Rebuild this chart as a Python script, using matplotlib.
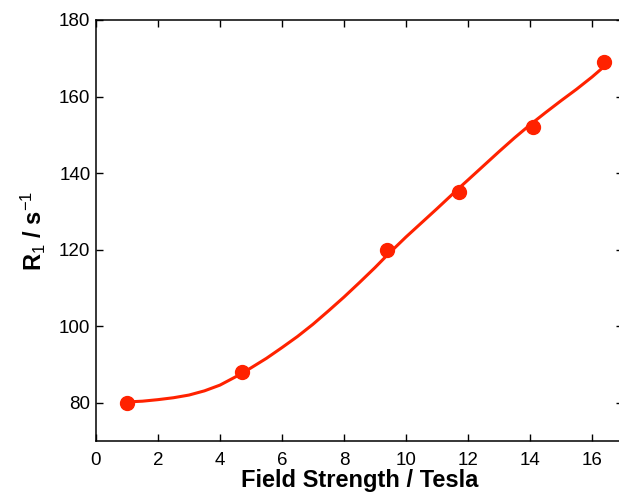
import matplotlib
matplotlib.use('Agg')
import matplotlib.pyplot as plt

# measured R1 values
field = [1.0, 4.7, 9.4, 11.7, 14.1, 16.4]
r1 = [80, 88, 120, 135, 152, 169]

# fitted curve
fit_x = [1.0, 1.5, 2.0, 2.5, 3.0, 3.5, 4.0, 4.7, 5.5, 6.0, 6.5, 7.0, 7.5, 8.0, 8.5, 9.0, 9.4,
         10.0, 10.5, 11.0, 11.7, 12.0, 12.5, 13.0, 13.5, 14.0, 14.5, 15.0, 15.5, 16.0, 16.4]
fit_y = [80.2, 80.4, 80.8, 81.3, 82.0, 83.1, 84.6, 87.6, 91.6, 94.4, 97.3, 100.5, 104.0, 107.6,
         111.4, 115.3, 118.6, 123.3, 127.0, 130.7, 136.0, 138.2, 141.9, 145.6, 149.2, 152.6,
         155.8, 158.9, 161.9, 165.1, 167.9]

plt.rcParams['font.family'] = ['Liberation Sans', 'DejaVu Sans']
plt.rcParams['mathtext.fontset'] = 'custom'
plt.rcParams['mathtext.rm'] = 'Liberation Sans'
plt.rcParams['mathtext.it'] = 'Liberation Sans'
plt.rcParams['mathtext.bf'] = 'Liberation Sans:bold'

fig = plt.figure(figsize=(6.19, 4.93), dpi=100)
ax = fig.add_axes([0.155, 0.1055, 0.8515, 0.854])

red = '#ff2200'
ax.plot(fit_x, fit_y, color=red, lw=2.2, zorder=2)
ax.plot(field, r1, 'o', color=red, ms=10, zorder=3)

ax.set_xlim(0, 17)
ax.set_ylim(70, 180)
ax.set_xticks(range(0, 17, 2))
ax.set_yticks(range(80, 181, 20))
ax.tick_params(direction='in', top=True, right=True, length=5, width=1,
               labelsize=13.5)
ax.tick_params(axis='x', pad=8)
ax.tick_params(axis='y', pad=4)
for s in ax.spines.values():
    s.set_linewidth(1.1)

ax.set_xlabel('Field Strength / Tesla', fontsize=17, fontweight='bold', labelpad=0)
ax.set_ylabel('R$_1$ / s$^{-1}$', fontsize=17, fontweight='bold', labelpad=8)

plt.savefig('out.png', dpi=100)
